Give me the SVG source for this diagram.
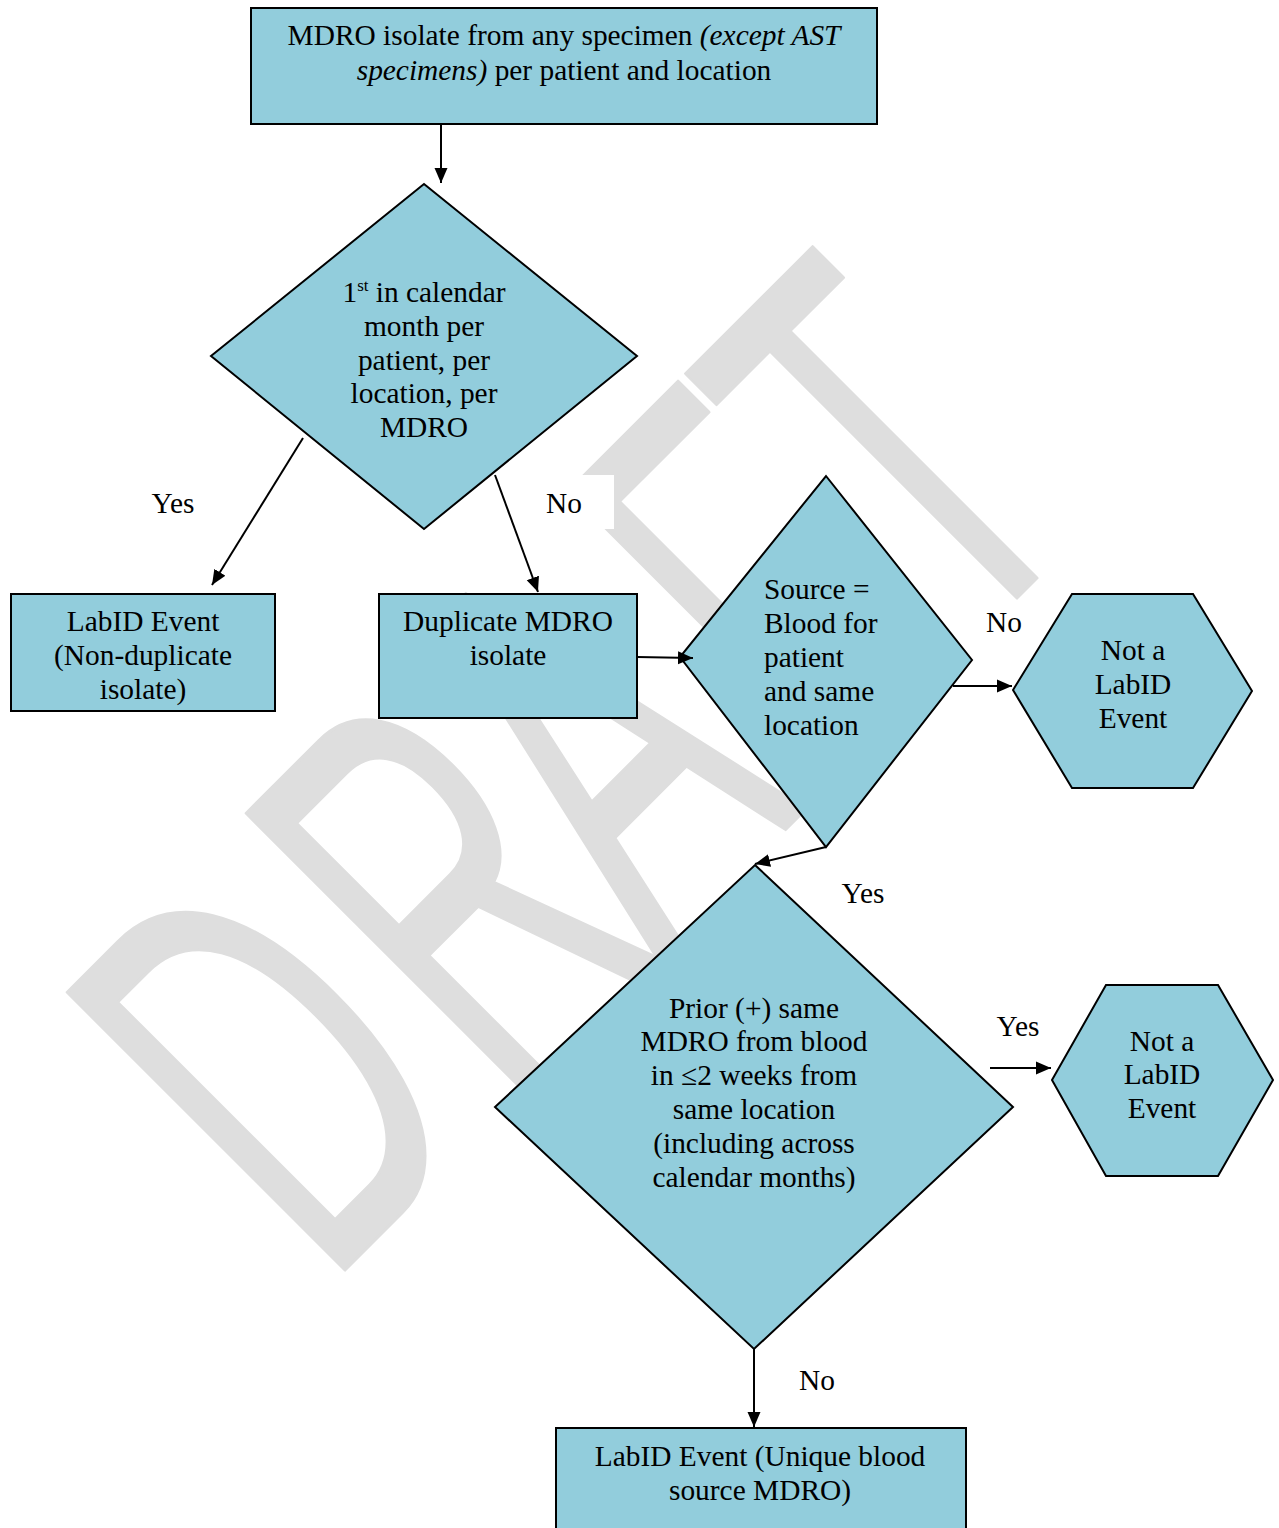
<svg xmlns="http://www.w3.org/2000/svg" width="1279" height="1528" viewBox="0 0 1279 1528">
<style>
.shape{fill:#92cddc;stroke:#000;stroke-width:2}
.t{font-family:"Liberation Serif","Times New Roman",serif;font-size:29.4px;fill:#000}
.c{text-anchor:middle}
.conn{fill:none;stroke:#000;stroke-width:2}
.wm{font-family:"Liberation Sans",Arial,sans-serif;font-size:571px;fill:#dedede;stroke:#dedede;stroke-width:3;stroke-linejoin:round}
</style>
<defs>
<marker id="ah" markerUnits="userSpaceOnUse" markerWidth="16" markerHeight="14" viewBox="0 0 16 14" refX="15" refY="7" orient="auto">
<path d="M0,0.5 L15,7 L0,13.5 Z" fill="#000"/>
</marker>
</defs>
<rect width="1279" height="1528" fill="#fff"/>
<g id="watermark">
<text class="wm" vector-effect="non-scaling-stroke" transform="translate(807.5,807.5) rotate(-45) scale(0.56,1)"><tspan x="-1216">D</tspan><tspan x="-764">R</tspan><tspan x="-382">A</tspan><tspan x="50">F</tspan><tspan x="380">T</tspan></text>
</g>
<g id="n-start">
<rect class="shape" x="251" y="8" width="626" height="116"/>
<text class="t c" x="564" y="45">MDRO isolate from any specimen <tspan font-style="italic">(except AST</tspan></text>
<text class="t c" x="564" y="80"><tspan font-style="italic">specimens)</tspan> per patient and location</text>
</g>
<g id="n-first">
<polygon class="shape" points="424,184 637,356 424,529 211,356"/>
<text class="t c" x="424" y="302">1<tspan font-size="17" dy="-11">st</tspan><tspan dy="11"> in calendar</tspan></text>
<text class="t c" x="424" y="336">month per</text>
<text class="t c" x="424" y="370">patient, per</text>
<text class="t c" x="424" y="403">location, per</text>
<text class="t c" x="424" y="437">MDRO</text>
</g>
<g id="n-labid1">
<rect class="shape" x="11" y="594" width="264" height="117"/>
<text class="t c" x="143" y="631">LabID Event</text>
<text class="t c" x="143" y="665">(Non-duplicate</text>
<text class="t c" x="143" y="699">isolate)</text>
</g>
<g id="n-dup">
<rect class="shape" x="379" y="594" width="258" height="124"/>
<text class="t c" x="508" y="631">Duplicate MDRO</text>
<text class="t c" x="508" y="665">isolate</text>
</g>
<g id="n-source">
<polygon class="shape" points="826,476 972,660 826,847 680,657"/>
<text class="t" x="764" y="599">Source =</text>
<text class="t" x="764" y="633">Blood for</text>
<text class="t" x="764" y="667">patient</text>
<text class="t" x="764" y="701">and same</text>
<text class="t" x="764" y="735">location</text>
</g>
<g id="n-not1">
<polygon class="shape" points="1072,594 1193,594 1252,691 1193,788 1072,788 1013,690"/>
<text class="t c" x="1133" y="660">Not a</text>
<text class="t c" x="1133" y="694">LabID</text>
<text class="t c" x="1133" y="728">Event</text>
</g>
<g id="n-prior">
<polygon class="shape" points="755,865 1013,1107 754,1349 495,1107"/>
<text class="t c" x="754" y="1018">Prior (+) same</text>
<text class="t c" x="754" y="1051">MDRO from blood</text>
<text class="t c" x="754" y="1085">in ≤2 weeks from</text>
<text class="t c" x="754" y="1119">same location</text>
<text class="t c" x="754" y="1153">(including across</text>
<text class="t c" x="754" y="1187">calendar months)</text>
</g>
<g id="n-not2">
<polygon class="shape" points="1106,985 1218,985 1273,1080 1218,1176 1106,1176 1052,1080"/>
<text class="t c" x="1162" y="1051">Not a</text>
<text class="t c" x="1162" y="1084">LabID</text>
<text class="t c" x="1162" y="1118">Event</text>
</g>
<g id="n-labid2">
<rect class="shape" x="556" y="1428" width="410" height="112"/>
<text class="t c" x="760" y="1466">LabID Event (Unique blood</text>
<text class="t c" x="760" y="1500">source MDRO)</text>
</g>
<g id="connectors">
<path class="conn" d="M441,124 L441,183" marker-end="url(#ah)"/>
<path class="conn" d="M303,438 L212,585" marker-end="url(#ah)"/>
<path class="conn" d="M495,475 L538,592" marker-end="url(#ah)"/>
<path class="conn" d="M637,657 L693,658" marker-end="url(#ah)"/>
<path class="conn" d="M953,686 L1012,686" marker-end="url(#ah)"/>
<path class="conn" d="M826,847 L755,864" marker-end="url(#ah)"/>
<path class="conn" d="M990,1068 L1051,1068" marker-end="url(#ah)"/>
<path class="conn" d="M754,1349 L754,1427" marker-end="url(#ah)"/>
</g>
<g id="labels">
<text class="t c" x="173" y="513">Yes</text>
<rect x="540" y="475" width="74" height="54" fill="#fff"/>
<text class="t c" x="564" y="513">No</text>
<text class="t c" x="1004" y="632">No</text>
<text class="t c" x="863" y="903">Yes</text>
<text class="t c" x="1018" y="1036">Yes</text>
<text class="t c" x="817" y="1390">No</text>
</g>
</svg>
